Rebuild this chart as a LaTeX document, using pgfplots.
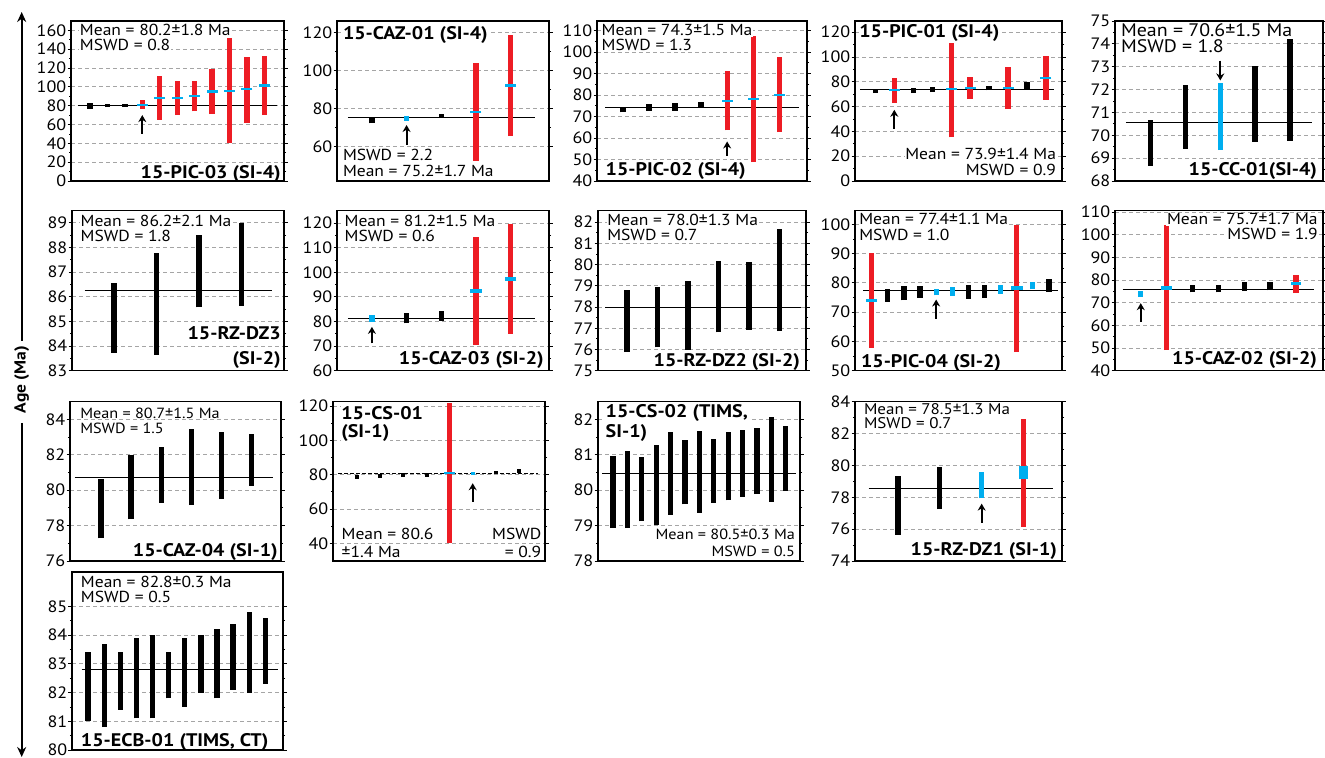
\documentclass[border=0pt]{standalone}
\usepackage{fontspec}
\setmainfont{PT Sans}[FakeStretch=1.1]
\usepackage{pgfplots}
\pgfplotsset{compat=1.18}
\usetikzlibrary{arrows.meta}
\definecolor{rd}{RGB}{237,28,36}
\definecolor{cy}{RGB}{0,174,239}
\definecolor{gr}{RGB}{165,165,165}
\newcommand\fm{\fontsize{16}{16}\selectfont}
\newcommand\fmS{\fontsize{14.8}{14.8}\selectfont}
\newcommand\fmM{\fontsize{15.5}{15.5}\selectfont}
\newcommand\fmL{\fontsize{18.2}{18.2}\selectfont}
\newcommand\fb{\fontsize{18.3}{18.3}\selectfont\bfseries}
\tikzset{
  mt/.style={font=\fm, fill=white, inner sep=0.8bp},
  mtS/.style={font=\fmS, fill=white, inner sep=0.8bp},
  mtM/.style={font=\fmM, fill=white, inner sep=0.5bp},
  mtL/.style={font=\fmL, fill=white, inner sep=0.8bp},
  bt/.style={font=\fb, fill=white, inner sep=0.8bp},
}
\pgfplotsset{
  panel/.style={scale only axis, anchor=south west, xtick=\empty, tick align=outside,
    major tick length=3.5bp, minor tick length=2bp, minor y tick num=1,
    axis line style={line width=1.1bp}, every tick/.append style={black, line width=0.8bp},
    ymajorgrids, major grid style={gr, line width=0.8bp, dash pattern=on 4bp off 3bp},
    yticklabel style={font=\fontsize{16.5}{16.5}\selectfont, inner sep=1bp},
    /pgf/number format/assume math mode=true, clip=true},
}
% bar: [width]{colour}{x}{low}{high}
\newcommand\pbar[5][5.3bp]{\addplot[#2, line width=#1] coordinates {(#3,#4) (#3,#5)};}
% cyan tick: {x}{y}
\newcommand\ptick[2]{\addplot[cy, only marks, mark=-, mark size=5.5bp, mark options={line width=2.2bp}] coordinates {(#1,#2)};}
\newcommand\ptickx[4]{\addplot[cy, only marks, mark=-, mark size=#1, mark options={line width=#2}] coordinates {(#3,#4)};}
% arrow: {x}{from}{to}
\newcommand\parr[3]{\addplot[black, line width=1.9bp, -{Stealth[length=7bp,width=8bp]}] coordinates {(#1,#2) (#1,#3)};}
% mean line: [style]{x0}{x1}{y}
\newcommand\pmean[4][]{\addplot[black, line width=1.2bp, #1] coordinates {(#2,#4) (#3,#4)};}
\newcommand\NW[4]{\node[#1, anchor=base west, xshift=#2, yshift=-#3] at (rel axis cs:0,1) {#4};}
\newcommand\NE[4]{\node[#1, anchor=base east, xshift=-#2, yshift=-#3] at (rel axis cs:1,1) {#4};}
\newcommand\SW[4]{\node[#1, anchor=base west, xshift=#2, yshift=#3] at (rel axis cs:0,0) {#4};}
\newcommand\SE[4]{\node[#1, anchor=base east, xshift=-#2, yshift=#3] at (rel axis cs:1,0) {#4};}
\begin{document}
\begin{tikzpicture}
\useasboundingbox (0,0) rectangle (1325bp,758bp);
% ---------------- Row 1 ----------------
\begin{axis}[panel, name=a1, at={(71bp,577bp)}, width=213bp, height=160bp, xmin=-0.09, xmax=12.13, ymin=0, ymax=170, ytick={0,20,...,160}]
\pmean{0.29}{11.73}{80.2}
\pbar{black}{1}{77}{82.5}
\pbar{black}{2}{78.5}{82}
\pbar{black}{3}{78.5}{82}
\pbar{rd}{4}{77}{86} \ptick{4}{81}
\pbar{rd}{5}{65}{112} \ptick{5}{88}
\pbar{rd}{6}{70}{106} \ptick{6}{88}
\pbar{rd}{7}{74}{106} \ptick{7}{90}
\pbar{rd}{8}{71}{119.5} \ptick{8}{95}
\pbar{rd}{9}{40}{152} \ptick{9}{96}
\pbar{rd}{10}{62}{132} \ptick{10}{97.5}
\pbar{rd}{11}{70}{133} \ptick{11}{101.5}
\parr{4}{50}{70}
\NW{mt}{8bp}{15bp}{Mean = 80.2±1.8 Ma}
\NW{mt}{8bp}{30bp}{MSWD = 0.8}
\SE{bt}{2.3bp}{2.7bp}{15-PIC-03 (SI-4)}
\end{axis}
\begin{axis}[panel, name=a2, at={(337bp,577bp)}, width=212bp, height=160bp, xmin=-0.007, xmax=6.11, ymin=42, ymax=126, ytick={60,80,...,120}]
\pmean{0.31}{5.71}{75.2}
\pbar{black}{1}{72.3}{74.9}
\pbar{cy}{2}{73.5}{76.1}
\pbar{black}{3}{75.3}{77.4}
\pbar{rd}{4}{52.5}{104} \ptick{4}{78.4}
\pbar{rd}{5}{65.6}{118.4} \ptick{5}{92.1}
\parr{2}{61}{71.4}
\NW{bt}{5bp}{18.5bp}{15-CAZ-01 (SI-4)}
\SW{mt}{5bp}{20bp}{MSWD = 2.2}
\SW{mt}{5bp}{4bp}{Mean = 75.2±1.7 Ma}
\end{axis}
\begin{axis}[panel, name=a3, at={(597bp,577bp)}, width=210bp, height=160bp, xmin=-0.003, xmax=8.07, ymin=40, ymax=114.5, ytick={40,50,...,110}]
\pmean{0.32}{7.78}{74.3}
\pbar{black}{1}{72}{74.5}
\pbar{black}{2}{72.8}{75.9}
\pbar{black}{3}{72.8}{76.25}
\pbar{black}{4}{74.4}{76.9}
\pbar{rd}{5}{63.6}{91.1} \ptick{5}{77.3}
\pbar{rd}{6}{48.75}{107.7} \ptick{6}{78.3}
\pbar{rd}{7}{62.8}{97.5} \ptick{7}{80.2}
\parr{5}{51.7}{58.4}
\NW{mt}{3.7bp}{15bp}{Mean = 74.3±1.5 Ma}
\NW{mt}{3.7bp}{30bp}{MSWD = 1.3}
\SW{bt}{7.7bp}{5bp}{15-PIC-02 (SI-4)}
\end{axis}
\begin{axis}[panel, name=a4, at={(855bp,577bp)}, width=207bp, height=160bp, xmin=-0.074, xmax=10.85, ymin=0, ymax=129, ytick={0,20,...,120}]
\pmean{0.19}{10.44}{73.9}
\pbar{black}{1}{70.9}{74.2}
\pbar{rd}{2}{63.1}{83.1} \ptick{2}{73.1}
\pbar{black}{3}{70.9}{75}
\pbar{black}{4}{71.7}{75.8}
\pbar{rd}{5}{35.1}{113.3} \ptick{5}{74.2}
\pbar{rd}{6}{66.1}{83.9} \ptick{6}{75}
\pbar{black}{7}{73.1}{76.6}
\pbar{rd}{8}{58}{91.7} \ptick{8}{75}
\pbar{black}{9}{74.2}{79.6}
\pbar{rd}{10}{65.3}{101.1} \ptick{10}{83.1}
\parr{2}{42.1}{57.4}
\NW{bt}{3.3bp}{16.7bp}{15-PIC-01 (SI-4)}
\SE{mt}{5bp}{21bp}{Mean = 73.9±1.4 Ma}
\SE{mt}{5bp}{5bp}{MSWD = 0.9}
\end{axis}
\begin{axis}[panel, name=a5, at={(1115bp,577bp)}, width=208bp, height=160bp, xmin=-0.024, xmax=5.95, ymin=68, ymax=75, ytick={68,...,75}]
\pmean{0.29}{5.62}{70.57}
\pbar{black}{1}{68.67}{70.66}
\pbar{black}{2}{69.42}{72.18}
\pbar{cy}{3}{69.35}{72.29}
\pbar{black}{4}{69.71}{73.04}
\pbar{black}{5}{69.76}{74.22}
\parr{3}{73.27}{72.4}
\NW{mtL}{5bp}{15.5bp}{Mean = 70.6±1.5 Ma}
\NW{mtL}{5bp}{32bp}{MSWD = 1.8}
\SE{bt}{5bp}{5bp}{15-CC-01(SI-4)}
\end{axis}
% ---------------- Row 2 ----------------
\begin{axis}[panel, name=a6, at={(72bp,387.3bp)}, width=212bp, height=160.2bp, xmin=0.01, xmax=5.0, ymin=83, ymax=89.5, ytick={83,...,89}]
\pmean{0.31}{4.72}{86.27}
\pbar{black}{1}{83.73}{86.54}
\pbar{black}{2}{83.64}{87.78}
\pbar{black}{3}{85.57}{88.52}
\pbar{black}{4}{85.63}{89.0}
\NW{mt}{7.7bp}{16bp}{Mean = 86.2±2.1 Ma}
\NW{mt}{7.7bp}{31bp}{MSWD = 1.8}
\SE{bt}{2.3bp}{31.3bp}{15-RZ-DZ3}
\SE{bt}{2.3bp}{5.7bp}{(SI-2)}
\end{axis}
\begin{axis}[panel, name=a7, at={(337bp,387.3bp)}, width=212bp, height=160.2bp, xmin=-0.007, xmax=6.11, ymin=60, ymax=125.1, ytick={60,70,...,120}]
\pmean{0.31}{5.71}{81.2}
\pbar{cy}{1}{79.9}{82.6}
\pbar{black}{2}{79.2}{83.5}
\pbar{black}{3}{80.3}{84.2}
\pbar{rd}{4}{70.4}{114.3} \ptickx{5.8bp}{3.5bp}{4}{92.3}
\pbar{rd}{5}{75.1}{119.5} \ptickx{5.8bp}{3.5bp}{5}{97.2}
\parr{1}{71.1}{77.8}
\NW{mt}{6.7bp}{16bp}{Mean = 81.2±1.5 Ma}
\NW{mt}{6.7bp}{31bp}{MSWD = 0.6}
\SE{bt}{4.3bp}{5.7bp}{15-CAZ-03 (SI-2)}
\end{axis}
\begin{axis}[panel, name=a8, at={(598bp,387.3bp)}, width=208bp, height=160.2bp, xmin=0.046, xmax=6.87, ymin=75, ymax=82.55, ytick={75,...,82}]
\pmean{0.29}{6.70}{77.97}
\pbar{black}{1}{75.87}{78.82}
\pbar{black}{2}{76.1}{78.96}
\pbar{black}{3}{75.98}{79.25}
\pbar{black}{4}{76.81}{80.19}
\pbar{black}{5}{76.92}{80.11}
\pbar{black}{6}{76.86}{81.69}
\NW{mt}{8.3bp}{15bp}{Mean = 78.0±1.3 Ma}
\NW{mt}{8.3bp}{30bp}{MSWD = 0.7}
\SE{bt}{5bp}{4.3bp}{15-RZ-DZ2 (SI-2)}
\end{axis}
\begin{axis}[panel, name=a9, at={(855bp,387.3bp)}, width=207bp, height=160.2bp, xmin=-0.036, xmax=12.81, ymin=50, ymax=104.7, ytick={50,60,...,100}]
\pmean{0.48}{12.54}{77.4}
\pbar{rd}{1}{57.8}{90.3} \ptickx{5.5bp}{3bp}{1}{74}
\pbar{black}{2}{73.5}{78}
\pbar{black}{3}{74}{78.9}
\pbar{black}{4}{74.9}{78.8}
\pbar{cy}{5}{75.7}{78}
\pbar{cy}{6}{75.5}{78.5}
\pbar{black}{7}{74.6}{79.4}
\pbar{black}{8}{74.8}{79.2}
\pbar{cy}{9}{76.3}{79.4}
\pbar{rd}{10}{56.3}{99.8} \ptickx{6bp}{4bp}{10}{78.1}
\pbar{cy}{11}{77.8}{80.2}
\pbar{black}{12}{76.9}{81.35}
\parr{5}{67.7}{74.3}
\NW{mt}{3.3bp}{14.3bp}{Mean = 77.4±1.1 Ma}
\NW{mt}{3.3bp}{30bp}{MSWD = 1.0}
\SW{bt}{5bp}{3.3bp}{15-PIC-04 (SI-2)}
\end{axis}
\begin{axis}[panel, name=a10, at={(1115bp,387.3bp)}, width=208bp, height=160.2bp, xmin=0.004, xmax=8.05, ymin=40, ymax=110.7, ytick={40,50,...,110}]
\pmean{0.30}{7.70}{75.7}
\pbar{cy}{1}{72.42}{75.07}
\pbar{rd}{2}{49.1}{104.1} \ptickx{5.8bp}{3.2bp}{2}{76.5}
\pbar{black}{3}{74.6}{78}
\pbar{black}{4}{74.6}{78}
\pbar{black}{5}{75.07}{79.05}
\pbar{black}{6}{75.4}{79.3}
\pbar{rd}{7}{74.2}{82.3} \ptickx{5bp}{3bp}{7}{78.3}
\parr{1}{61.4}{69.8}
\NE{mt}{4.3bp}{14.3bp}{Mean = 75.7±1.7 Ma}
\NE{mt}{4.3bp}{29.3bp}{MSWD = 1.9}
\SE{bt}{5bp}{5.7bp}{15-CAZ-02 (SI-2)}
\end{axis}
% ---------------- Row 3 ----------------
\begin{axis}[panel, name=a11, at={(70bp,197bp)}, width=211bp, height=159.3bp, xmin=-0.035, xmax=6.99, ymin=76, ymax=85, ytick={76,78,...,84}]
\pmean{0.12}{6.71}{80.7}
\pbar{black}{1}{77.28}{80.63}
\pbar{black}{2}{78.35}{81.99}
\pbar{black}{3}{79.29}{82.42}
\pbar{black}{4}{79.16}{83.44}
\pbar{black}{5}{79.5}{83.27}
\pbar{black}{6}{80.24}{83.17}
\NW{mtS}{9.3bp}{16.7bp}{Mean = 80.7±1.5 Ma}
\NW{mtS}{9.3bp}{31.7bp}{MSWD = 1.5}
\SE{bt}{2.3bp}{4.3bp}{15-CAZ-04 (SI-1)}
\end{axis}
\begin{axis}[panel, name=a12, at={(333bp,197bp)}, width=212bp, height=159.3bp, xmin=-0.048, xmax=9.13, ymin=29.7, ymax=122.5, ytick={40,60,...,120}]
\pmean[dash pattern=on 4bp off 2bp]{0.18}{8.82}{80.6}
\pbar[4bp]{black}{1}{77.5}{79.8}
\pbar[4bp]{black}{2}{78.3}{80.2}
\pbar[4bp]{black}{3}{78.8}{80.8}
\pbar[4bp]{black}{4}{78.8}{80.8}
\pbar{rd}{5}{40}{121.5} \ptick{5}{80.8}
\pbar[4bp]{cy}{6}{79.8}{81.7}
\pbar[4bp]{black}{7}{80.2}{82.3}
\pbar[4bp]{black}{8}{80.8}{83.1}
\parr{6}{64.3}{75}
\NW{bt}{7.3bp}{17.7bp}{15-CS-01}
\NW{bt}{7.3bp}{35.7bp}{(SI-1)}
\SW{mt}{7.7bp}{21bp}{Mean = 80.6}
\SW{mt}{7.7bp}{3.3bp}{±1.4 Ma}
\SE{mt}{2.7bp}{21bp}{MSWD}
\SE{mt}{2.7bp}{3.3bp}{= 0.9}
\end{axis}
\begin{axis}[panel, name=a13, at={(598bp,197bp)}, width=202bp, height=159.3bp, xmin=-0.04, xmax=13.99, ymin=78, ymax=82.5, ytick={78,...,82}]
\pmean{0.26}{13.72}{80.48}
\pbar{black}{1}{78.93}{80.98}
\pbar{black}{2}{78.93}{81.10}
\pbar{black}{3}{79.12}{80.93}
\pbar{black}{4}{79.03}{81.29}
\pbar{black}{5}{79.31}{81.63}
\pbar{black}{6}{79.6}{81.43}
\pbar{black}{7}{79.36}{81.68}
\pbar{black}{8}{79.65}{81.46}
\pbar{black}{9}{79.71}{81.63}
\pbar{black}{10}{79.81}{81.70}
\pbar{black}{11}{79.89}{81.76}
\pbar{black}{12}{79.68}{82.06}
\pbar{black}{13}{79.98}{81.81}
\NW{bt}{6.7bp}{16bp}{15-CS-02 (TIMS,}
\NW{bt}{6.7bp}{35.7bp}{SI-1)}
\SE{mtS}{4bp}{21bp}{Mean = 80.5±0.3 Ma}
\SE{mtS}{4bp}{4.3bp}{MSWD = 0.5}
\end{axis}
\begin{axis}[panel, name=a14, at={(855bp,197bp)}, width=207bp, height=159.3bp, xmin=-0.027, xmax=4.92, ymin=74, ymax=84, ytick={74,76,...,84}]
\pmean{0.30}{4.70}{78.55}
\pbar{black}{1}{75.65}{79.31}
\pbar{black}{2}{77.25}{79.88}
\pbar{cy}{3}{77.93}{79.6}
\pbar{rd}{4}{76.16}{82.9}
\pbar[9bp]{cy}{4}{79.14}{79.97}
\parr{3}{76.4}{77.6}
\NW{mtM}{8.3bp}{13bp}{Mean = 78.5±1.3 Ma}
\NW{mtM}{8.3bp}{26.5bp}{MSWD = 0.7}
\SE{bt}{4bp}{5bp}{15-RZ-DZ1 (SI-1)}
\end{axis}
% ---------------- Row 4 ----------------
\begin{axis}[panel, name=a15, at={(72bp,8bp)}, width=211bp, height=178bp, xmin=0, xmax=13.1, ymin=80, ymax=86.2, ytick={80,...,85}]
\pmean{0.6}{12.8}{82.8}
\pbar{black}{1}{81.0}{83.4}
\pbar{black}{2}{80.8}{83.7}
\pbar{black}{3}{81.4}{83.4}
\pbar{black}{4}{81.1}{83.9}
\pbar{black}{5}{81.1}{84.0}
\pbar{black}{6}{81.8}{83.4}
\pbar{black}{7}{81.5}{83.9}
\pbar{black}{8}{82.0}{84.0}
\pbar{black}{9}{81.8}{84.2}
\pbar{black}{10}{82.1}{84.4}
\pbar{black}{11}{82.0}{84.8}
\pbar{black}{12}{82.3}{84.6}
\NW{mt}{8bp}{15bp}{Mean = 82.8±0.3 Ma}
\NW{mt}{8bp}{30bp}{MSWD = 0.5}
\SW{bt}{8bp}{4bp}{15-ECB-01 (TIMS, CT)}
\end{axis}
% ---------------- panel frames on top ----------------
\foreach \n in {a1,a2,a3,a4,a5,a6,a7,a8,a9,a10,a11,a12,a13,a14,a15}
  \draw[line width=1.1bp] (\n.south west) rectangle (\n.north east);
% ---------------- shared age axis ----------------
\draw[line width=1.6bp, -{Stealth[length=10bp,width=9bp]}] (21.7bp,417bp) -- (21.7bp,746bp);
\draw[line width=1.6bp, -{Stealth[length=10bp,width=9bp]}] (21.7bp,335bp) -- (21.7bp,1bp);
\node[rotate=90, font=\fontsize{16}{16}\selectfont\bfseries] at (21.7bp,378.5bp) {Age (Ma)};
\end{tikzpicture}
\end{document}
